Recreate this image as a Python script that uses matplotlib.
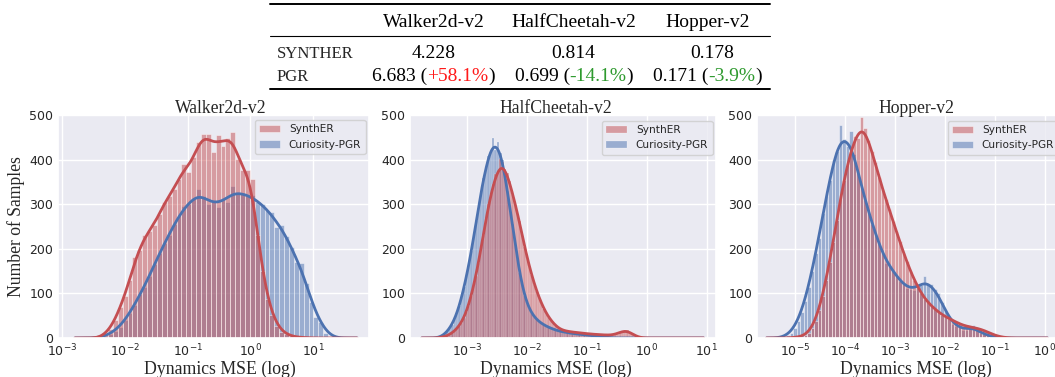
import numpy as np
import matplotlib
matplotlib.use("Agg")
import matplotlib.pyplot as plt
import seaborn as sns


FIG_W, FIG_H = 1055, 377
SERIF = "Liberation Serif"
RED = "#C44E52"
BLUE = "#4C72B0"

# table on top of the figure
ENV_NAMES = ["Walker2d-v2", "HalfCheetah-v2", "Hopper-v2"]
SYNTHER_MSE = ["4.228", "0.814", "0.178"]
PGR_MSE = ["6.683", "0.699", "0.171"]
PGR_CHANGE = ["+58.1%", "-14.1%", "-3.9%"]

# histogram counts, bins are equal steps in log10(MSE)
# (first edge, bin width) in log10 units
WALKER_BINS = (-2.35, 0.078)
WALKER_SYNTHER = [
    10, 20, 40, 70, 95, 130, 182, 198, 232, 240,
    254, 277, 306, 318, 333, 356, 390, 372, 405, 439,
    457, 457, 418, 455, 430, 448, 462, 402, 376, 376,
    356, 230, 150, 88, 52, 28, 14, 8, 4, 2,
    1, 1, 0, 0, 0, 0,
]
WALKER_PGR = [
    5, 9, 15, 25, 40, 55, 75, 98, 115, 140,
    165, 190, 212, 232, 255, 275, 295, 300, 312, 335,
    318, 300, 306, 294, 312, 305, 340, 322, 326, 318,
    320, 306, 300, 288, 282, 250, 254, 228, 203, 171,
    169, 124, 81, 47, 36, 11,
]
# log10 span of the raw samples (where the kde line is drawn)
WALKER_SPAN = (-2.8, 1.7)

HALF_BINS = (-3.50, 0.04)
HALF_SYNTHER = [
    0, 1, 2, 3, 5, 7, 11, 15, 20, 27,
    34, 45, 58, 72, 95, 118, 140, 168, 200, 232,
    268, 300, 322, 345, 368, 372, 402, 395, 380, 370,
    352, 322, 305, 288, 262, 235, 205, 180, 162, 142,
    122, 105, 92, 78, 66, 55, 46, 40, 33, 27,
    22, 18, 17, 16, 15, 14, 13, 13, 12, 12,
    11, 10, 10, 9, 9, 8, 8, 8, 7, 7,
    7, 6, 6, 7, 8, 10, 13, 16, 18, 17,
    14, 9, 5, 2, 1,
]
HALF_PGR = [
    1, 2, 5, 9, 15, 22, 30, 42, 55, 72,
    92, 115, 140, 165, 195, 228, 262, 298, 330, 358,
    382, 408, 418, 448, 422, 440, 415, 398, 365, 330,
    290, 255, 218, 180, 145, 118, 95, 78, 65, 55,
    48, 42, 37, 33, 30, 27, 24, 22, 20, 18,
    16, 15, 14, 13, 12, 11, 10, 10, 9, 8,
    8, 7, 7, 6, 6, 5, 4, 4, 3, 2,
    2, 1, 1, 0, 0, 0, 0, 0, 0, 0,
    0, 0, 0, 0, 0,
]
HALF_SPAN = (-3.75, 0.95)

HOPPER_BINS = (-5.25, 0.07)
HOPPER_SYNTHER = [
    0, 0, 1, 1, 2, 3, 6, 12, 22, 38,
    62, 95, 130, 170, 215, 265, 312, 355, 388, 420,
    452, 448, 495, 470, 445, 420, 395, 360, 335, 312,
    290, 262, 240, 218, 190, 172, 150, 130, 118, 100,
    88, 80, 72, 65, 58, 52, 48, 44, 40, 36,
    32, 28, 26, 25, 24, 22, 20, 18, 14, 10,
    6, 4, 2, 1,
]
HOPPER_PGR = [
    3, 6, 12, 22, 38, 58, 82, 115, 150, 190,
    225, 280, 318, 355, 398, 420, 478, 446, 430, 465,
    412, 370, 340, 310, 290, 255, 235, 212, 190, 168,
    165, 150, 140, 128, 120, 112, 110, 108, 112, 118,
    138, 122, 120, 110, 100, 80, 62, 42, 32, 28,
    24, 18, 18, 22, 30, 18, 12, 8, 6, 4,
    2, 1, 0, 0,
]
HOPPER_SPAN = (-5.57, 0.05)


def kde_curve(edges, counts, span):
    """Gaussian kde in log space, scaled to bar counts (like seaborn)."""
    counts = np.asarray(counts, dtype=float)
    centers = (edges[:-1] + edges[1:]) / 2
    width = edges[1] - edges[0]
    total = counts.sum()
    mean = np.sum(centers * counts) / total
    var = np.sum(counts * (centers - mean) ** 2) / total + width ** 2 / 12
    bw = np.sqrt(var) * total ** (-1 / 5)
    grid = np.linspace(span[0], span[1], 800)
    z = (grid[:, None] - centers[None, :]) / bw
    dens = (counts[None, :] * np.exp(-0.5 * z ** 2)).sum(axis=1)
    dens = dens / (total * bw * np.sqrt(2 * np.pi))
    return 10 ** grid, dens * total * width


def draw_panel(ax, bins, synther, pgr, span, edge_lw):
    start, width = bins
    edges = start + width * np.arange(len(synther) + 1)
    left = 10 ** edges[:-1]
    widths = 10 ** edges[1:] - left

    blue_bars = ax.bar(left, pgr, width=widths, align="edge", color=BLUE,
                       alpha=0.5, edgecolor="white", linewidth=edge_lw)
    red_bars = ax.bar(left, synther, width=widths, align="edge", color=RED,
                      alpha=0.5, edgecolor="white", linewidth=edge_lw)

    x, y = kde_curve(edges, pgr, span)
    ax.plot(x, y, color=BLUE, linewidth=2)
    x, y = kde_curve(edges, synther, span)
    ax.plot(x, y, color=RED, linewidth=2)
    return red_bars, blue_bars


def centered_pieces(fig, pieces, x_mid, y_base, size):
    """Write several coloured pieces of text as one centred line."""
    renderer = fig.canvas.get_renderer()
    items = []
    for text, color in pieces:
        items.append(fig.text(0, 1 - y_base / FIG_H, text, color=color,
                              fontsize=size, family=SERIF, va="baseline"))
    widths = [t.get_window_extent(renderer).width for t in items]
    x = x_mid - sum(widths) / 2
    for t, w in zip(items, widths):
        t.set_x(x / FIG_W)
        x += w


def draw_table(fig):
    col_mid = [433.5, 574, 707.5]
    for y, lw in [(4.3, 1.4), (35.7, 0.8), (89.3, 1.4)]:
        fig.add_artist(plt.Line2D([270 / FIG_W, 770 / FIG_W], [1 - y / FIG_H] * 2,
                                  color="black", linewidth=lw))

    for name, x in zip(ENV_NAMES, col_mid):
        centered_pieces(fig, [(name, "black")], x, 26.7, 14)

    fig.text(276.7 / FIG_W, 1 - 58.3 / FIG_H, "SYNTHER", fontsize=12,
             family=SERIF, va="baseline")
    fig.text(276.7 / FIG_W, 1 - 80.7 / FIG_H, "PGR", fontsize=12,
             family=SERIF, va="baseline")

    synther_mid = [433.8, 573, 712]
    for value, x in zip(SYNTHER_MSE, synther_mid):
        centered_pieces(fig, [(value, "black")], x, 58.3, 14)

    for value, change, x in zip(PGR_MSE, PGR_CHANGE, col_mid):
        color = "#FF1A1A" if change.startswith("+") else "#2E9A2E"
        centered_pieces(fig, [(value + " (", "black"), (change, color), (")", "black")],
                        x, 80.7, 14)


def main():
    sns.set_theme(style="darkgrid")
    plt.rcParams["font.family"] = ["DejaVu Sans"]

    fig = plt.figure(figsize=(FIG_W / 100, FIG_H / 100), dpi=100)

    panels = [
        ("Walker2d-v2", WALKER_BINS, WALKER_SYNTHER, WALKER_PGR, WALKER_SPAN,
         (58, 369), (-3.07, 1.89), (255, 120), 0.522, 0.6),
        ("HalfCheetah-v2", HALF_BINS, HALF_SYNTHER, HALF_PGR, HALF_SPAN,
         (410, 716), (-3.945, 1.155), (602, 121), 0.478, 0.3),
        ("Hopper-v2", HOPPER_BINS, HOPPER_SYNTHER, HOPPER_PGR, HOPPER_SPAN,
         (757, 1075), (-5.76, 0.6), (948, 121), 0.5, 0.6),
    ]

    top, bottom = 115, 338
    for i, (title, bins, synther, pgr, span, box, xlim, leg, tx, lw) in enumerate(panels):
        ax = fig.add_axes([box[0] / FIG_W, 1 - bottom / FIG_H,
                           (box[1] - box[0]) / FIG_W, (bottom - top) / FIG_H])
        red_bars, blue_bars = draw_panel(ax, bins, synther, pgr, span, lw)

        ax.set_xscale("log")
        ax.set_xlim(10 ** xlim[0], 10 ** xlim[1])
        ax.set_ylim(0, 500)
        ax.set_yticks(range(0, 501, 100))
        ax.minorticks_off()
        ax.tick_params(axis="both", which="both", length=0, labelsize=9, pad=3.5)

        ax.set_title(title, family=SERIF, fontsize=12.7, pad=1.5, x=tx)
        ax.set_xlabel("Dynamics MSE (log)", family=SERIF, fontsize=12.8,
                      labelpad=1, x=tx)
        if i == 0:
            ax.set_ylabel("Number of Samples", family=SERIF, fontsize=12.7, labelpad=3)

        ax.legend([red_bars, blue_bars], ["SynthER", "Curiosity-PGR"],
                  loc="upper left", bbox_to_anchor=(leg[0] / FIG_W, 1 - leg[1] / FIG_H),
                  bbox_transform=fig.transFigure, borderaxespad=0, fontsize=7.6)

    draw_table(fig)
    fig.savefig("out.png", dpi=100)


if __name__ == "__main__":
    main()
